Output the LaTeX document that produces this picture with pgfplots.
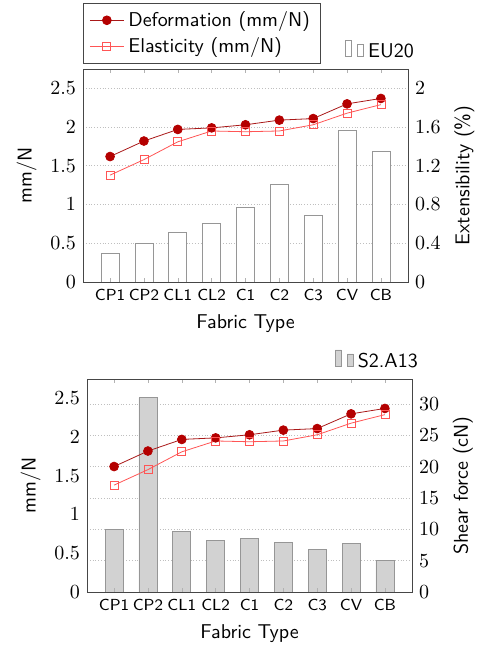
\documentclass[border=0pt]{standalone}
\usepackage{pgfplots}
\pgfplotsset{compat=1.18}
\definecolor{defred}{RGB}{180,0,0}
\definecolor{elared}{RGB}{255,85,85}
\definecolor{barfill}{RGB}{210,210,210}
\definecolor{baredge}{RGB}{150,150,150}
\definecolor{axgray}{RGB}{70,70,70}
\pgfplotstableread{
x def ela eu sa
0 1.62 1.38 0.30 10.0
1 1.82 1.58 0.40 31.0
2 1.97 1.81 0.51 9.6
3 1.99 1.95 0.61 8.2
4 2.03 1.94 0.77 8.5
5 2.09 1.95 1.01 7.9
6 2.11 2.03 0.69 6.8
7 2.30 2.18 1.57 7.8
8 2.37 2.29 1.35 5.1
}\data
\begin{document}
\begin{tikzpicture}
\path[use as bounding box] (-41.5pt,-184pt) rectangle (199.5pt,141pt);
\pgfplotsset{
  common/.style={scale only axis, width=162.5pt, height=106.5pt,
    xmin=-0.8, xmax=8.8, xtick={0,...,8},
    xticklabels={CP1,CP2,CL1,CL2,C1,C2,C3,CV,CB},
    xticklabel style={font=\sffamily\footnotesize},
    label style={font=\sffamily},
    axis line style={axgray},
    tick style={gray!60}, major tick length=2pt},
  baraxis/.style={common, axis x line=none, axis y line*=right,
    ymajorgrids, grid style={densely dotted, gray!50},
    ytick style={draw=none},
    legend style={at={(1.05,1.0)}, anchor=south east, draw=none, font=\sffamily, fill=none}},
  lineaxis/.style={common, ymin=0, ymax=2.75, ytick={0,0.5,...,2.5},
    ytick pos=left, ytick style={draw=none}, ylabel={mm/N}, xlabel={Fabric Type}},
}
% ---------- top ----------
\begin{axis}[baraxis, ymin=0, ymax=2.2, ytick={0,0.4,...,2.0},
  ylabel={Extensibility (\%)}]
\addplot[ybar, ybar legend, bar width=9pt, draw=baredge, fill=white] table[x=x,y=eu]{\data};
\addlegendentry{EU20}
\end{axis}
\begin{axis}[lineaxis,
  legend style={at={(0,1.025)}, anchor=south west, font=\sffamily, draw=axgray},
  legend cell align=left]
\addplot[color=defred!80!gray, mark=*, mark size=2.2pt, mark options={fill=defred, draw=defred}] table[x=x,y=def]{\data};
\addlegendentry{Deformation (mm/N)}
\addplot[color=elared, mark=square, mark size=2pt] table[x=x,y=ela]{\data};
\addlegendentry{Elasticity (mm/N)}
\end{axis}
% ---------- bottom ----------
\begin{axis}[baraxis, at={(2pt,-155pt)}, ymin=0, ymax=34, ytick={0,5,...,30},
  ylabel={Shear force (cN)}]
\addplot[ybar, ybar legend, bar width=9pt, draw=baredge, fill=barfill] table[x=x,y=sa]{\data};
\addlegendentry{S2.A13}
\end{axis}
\begin{axis}[lineaxis, at={(2pt,-155pt)}]
\addplot[color=defred!80!gray, mark=*, mark size=2.2pt, mark options={fill=defred, draw=defred}] table[x=x,y=def]{\data};
\addplot[color=elared, mark=square, mark size=2pt] table[x=x,y=ela]{\data};
\end{axis}
\end{tikzpicture}
\end{document}
